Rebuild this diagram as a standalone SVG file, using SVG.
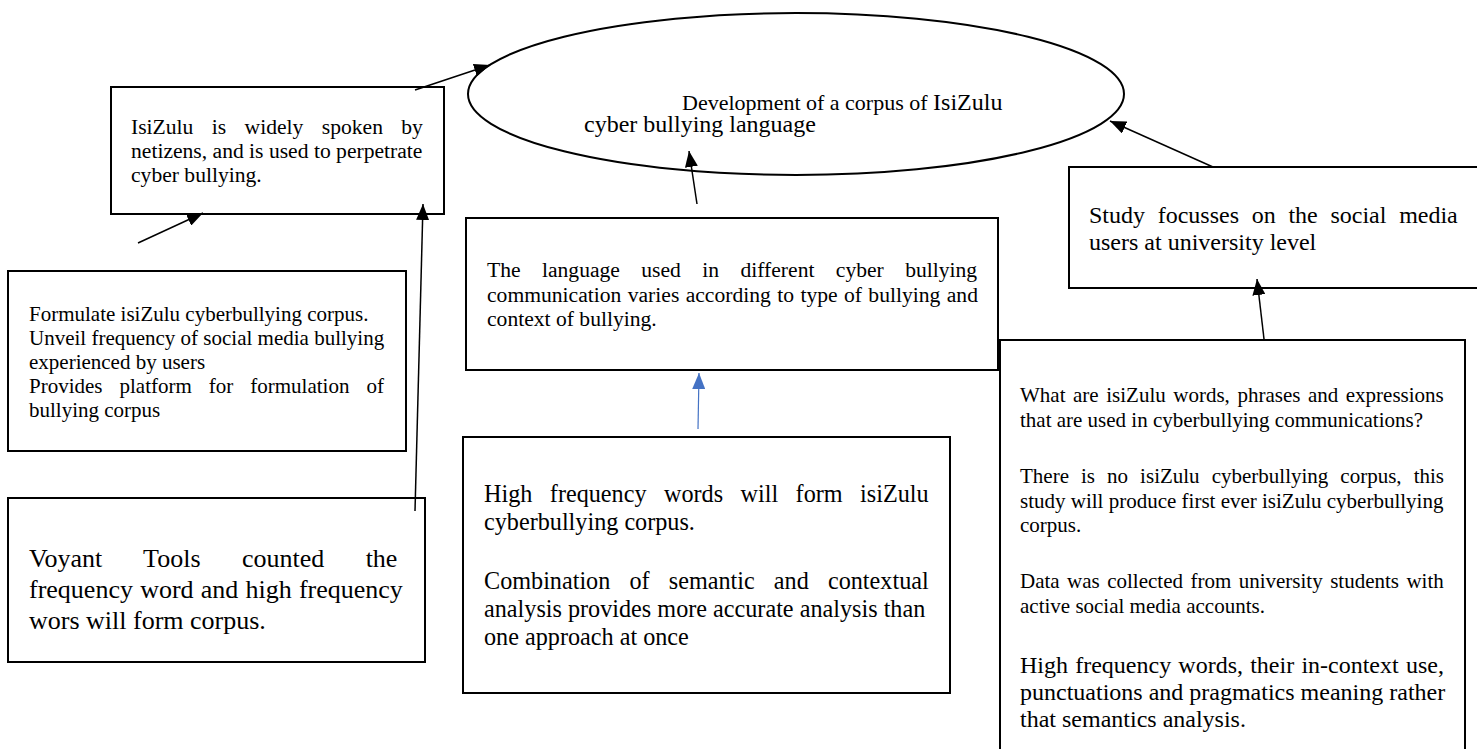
<svg xmlns="http://www.w3.org/2000/svg" width="1477" height="749" viewBox="0 0 1477 749">
<style>
.box{fill:#fff;stroke:#000;stroke-width:2}
.ell{fill:#fff;stroke:#000;stroke-width:2}
text{font-family:"Liberation Serif","Times New Roman",serif;fill:#000}
.con{stroke:#000;stroke-width:1.5;fill:none;marker-end:url(#ah)}
.blue{stroke:#4472C4;stroke-width:1.2;fill:none;marker-end:url(#ahb)}
</style>
<defs>
<marker id="ah" viewBox="0 0 16 13" refX="16" refY="6.5" markerWidth="16" markerHeight="13" markerUnits="userSpaceOnUse" orient="auto"><path d="M0,0 L16,6.5 L0,13 z" fill="#000"/></marker>
<marker id="ahb" viewBox="0 0 16 13" refX="16" refY="6.5" markerWidth="16" markerHeight="13" markerUnits="userSpaceOnUse" orient="auto"><path d="M0,0 L16,6.5 L0,13 z" fill="#4472C4"/></marker>
</defs>
<rect width="1477" height="749" fill="#fff"/>

<g id="goal">
<ellipse class="ell" cx="796" cy="94" rx="328" ry="81"/>
<text x="682" y="110" font-size="22">Development of a corpus of <tspan font-size="24">IsiZulu</tspan></text>
<text x="584" y="132" font-size="24">cyber bullying language</text>
</g>

<g id="nodeA">
<rect class="box" x="111" y="87" width="333" height="127"/>
<text font-size="21.6">
<tspan x="131" y="134" word-spacing="13">IsiZulu is widely spoken by</tspan>
<tspan x="131" y="158">netizens, and is used to perpetrate</tspan>
<tspan x="131" y="182">cyber bullying.</tspan>
</text>
</g>

<g id="nodeB">
<rect class="box" x="8" y="271" width="398" height="180"/>
<text font-size="21">
<tspan x="29" y="321">Formulate isiZulu cyberbullying corpus.</tspan>
<tspan x="29" y="345">Unveil frequency of social media bullying</tspan>
<tspan x="29" y="369">experienced by users</tspan>
<tspan x="29" y="393" word-spacing="11.75">Provides platform for formulation of</tspan>
<tspan x="29" y="417">bullying corpus</tspan>
</text>
</g>

<g id="nodeC">
<rect class="box" x="8" y="498" width="417" height="164"/>
<text font-size="26">
<tspan x="29" y="567" word-spacing="34.9">Voyant Tools counted the</tspan>
<tspan x="29" y="598" word-spacing="0.7">frequency word and high frequency</tspan>
<tspan x="29" y="629">wors will form corpus.</tspan>
</text>
</g>

<g id="nodeD1">
<rect class="box" x="466" y="218" width="532" height="152"/>
<text font-size="21.6">
<tspan x="487" y="277" word-spacing="16">The language used in different cyber bullying</tspan>
<tspan x="487" y="302" word-spacing="1">communication varies according to type of bullying and</tspan>
<tspan x="487" y="326">context of bullying.</tspan>
</text>
</g>

<g id="nodeD2">
<rect class="box" x="463" y="437" width="487" height="256"/>
<text font-size="24.2">
<tspan x="484" y="502" word-spacing="11.4">High frequency words will form isiZulu</tspan>
<tspan x="484" y="530">cyberbullying corpus.</tspan>
<tspan x="484" y="589" word-spacing="13.1">Combination of semantic and contextual</tspan>
<tspan x="484" y="617">analysis provides more accurate analysis than</tspan>
<tspan x="484" y="645">one approach at once</tspan>
</text>
</g>

<g id="nodeE">
<rect class="box" x="1069" y="167" width="420" height="121"/>
<text font-size="24">
<tspan x="1089" y="223" word-spacing="6.7">Study focusses on the social media</tspan>
<tspan x="1089" y="250">users at university level</tspan>
</text>
</g>

<g id="nodeF">
<rect class="box" x="1000" y="340" width="465" height="420"/>
<text font-size="21">
<tspan x="1020" y="402" word-spacing="2.3">What are isiZulu words, phrases and expressions</tspan>
<tspan x="1020" y="427">that are used in cyberbullying communications?</tspan>
<tspan x="1020" y="483" word-spacing="6.8">There is no isiZulu cyberbullying corpus, this</tspan>
<tspan x="1020" y="508">study will produce first ever isiZulu cyberbullying</tspan>
<tspan x="1020" y="532">corpus.</tspan>
<tspan x="1020" y="588" word-spacing="2.2">Data was collected from university students with</tspan>
<tspan x="1020" y="613">active social media accounts.</tspan>
</text>
<text font-size="24">
<tspan x="1020" y="673" word-spacing="1.2">High frequency words, their in-context use,</tspan>
<tspan x="1020" y="700">punctuations and pragmatics meaning rather</tspan>
<tspan x="1020" y="727">that semantics analysis.</tspan>
</text>
</g>

<g id="connectors">
<line class="con" x1="415" y1="90" x2="490" y2="65"/>
<line class="con" x1="138" y1="243" x2="203" y2="213"/>
<line class="con" x1="415" y1="511" x2="423" y2="204"/>
<line class="con" x1="697" y1="204" x2="689" y2="151"/>
<line class="blue" x1="698" y1="429" x2="699" y2="373"/>
<line class="con" x1="1213" y1="167" x2="1110" y2="121"/>
<line class="con" x1="1264" y1="339" x2="1257" y2="279"/>
</g>
</svg>
